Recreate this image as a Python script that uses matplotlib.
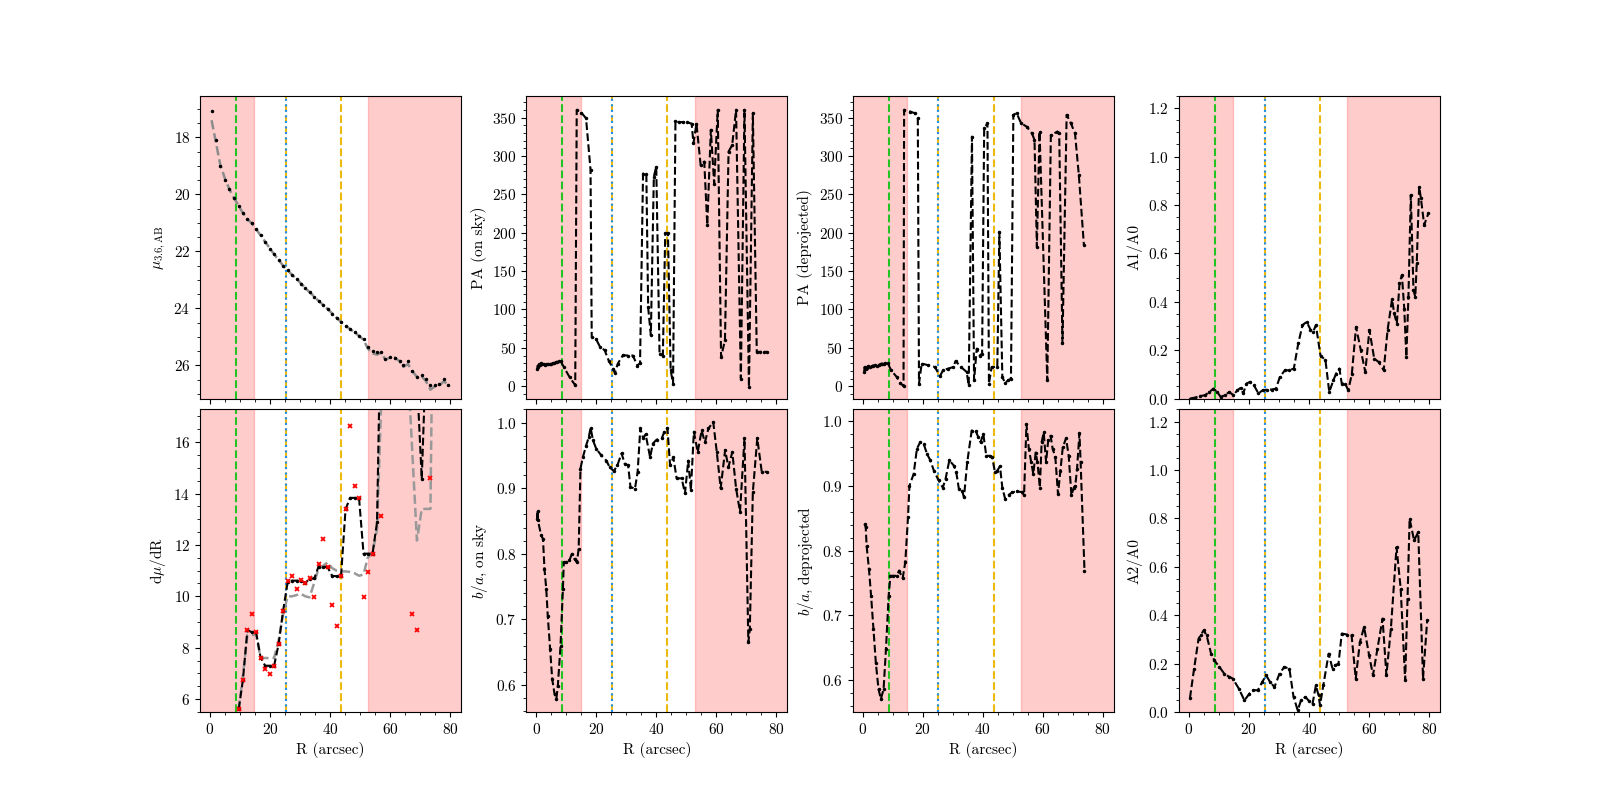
import matplotlib
matplotlib.use("Agg")
import matplotlib.pyplot as plt
from matplotlib.ticker import AutoMinorLocator

plt.rcParams.update({
    "font.family": "serif",
    "font.serif": ["cmr10", "DejaVu Serif"],
    "mathtext.fontset": "cm",
    "axes.formatter.use_mathtext": True,
    "axes.unicode_minus": False,
    "font.size": 11,
})

# ---------------- data ----------------
R_mu = [0.56, 1.95, 3.44, 5.03, 6.42, 8.0, 9.6, 11.0, 12.5, 14.0,
        15.4, 16.9, 18.4, 19.9, 21.4, 22.9, 24.4, 25.9, 27.35, 28.9,
        30.3, 31.8, 33.2, 34.8, 36.2, 37.8, 39.25, 40.7, 42.2, 43.7,
        45.2, 46.7, 48.2, 49.7, 51.2, 52.6, 54.2, 55.7, 57.1, 58.5,
        60.0, 61.6, 63.2, 64.45, 66.0, 67.5, 69.0, 70.6, 72.0, 73.5,
        75.1, 76.5, 78.0, 79.5]
mu_obs = [17.07, 18.09, 19.01, 19.50, 19.81, 20.14, 20.42, 20.67, 20.85, 21.02,
          21.23, 21.43, 21.67, 21.90, 22.10, 22.31, 22.51, 22.66, 22.81, 22.95,
          23.13, 23.27, 23.42, 23.60, 23.75, 23.89, 24.01, 24.18, 24.32, 24.48,
          24.60, 24.71, 24.83, 24.95, 25.06, 25.36, 25.50, 25.51, 25.51, 25.77,
          25.69, 25.74, 25.83, 25.97, 25.85, 26.18, 26.39, 26.35, 26.47, 26.70,
          26.67, 26.65, 26.48, 26.70]
mu_model = [17.40, 18.15, 18.95, 19.45, 19.80, 20.12, 20.40, 20.66, 20.86, 21.03,
            21.22, 21.44, 21.66, 21.88, 22.10, 22.30, 22.50, 22.66, 22.82, 22.96,
            23.12, 23.28, 23.43, 23.58, 23.74, 23.88, 24.02, 24.17, 24.33, 24.47,
            24.60, 24.72, 24.84, 24.96, 25.10, 25.40, 25.58, 25.62, 25.55, 25.80,
            25.72, 25.72, 25.85, 26.05, 25.95, 26.20, 26.40, 26.38, 26.55, 26.85,
            26.72, 26.70, 26.55, 26.70]

R_dmu = [9.6, 11.0, 12.5, 14.0, 15.4, 16.9, 18.4, 19.9, 21.4, 22.9,
         24.4, 25.9, 27.35, 28.9, 30.3, 31.8, 33.2, 34.8, 36.2, 37.8,
         39.25, 40.7, 42.2, 43.7, 45.2, 46.7, 48.2, 49.7, 51.2, 52.6,
         54.2, 55.7, 57.1, 58.5, 60.0, 61.6, 63.2, 64.45, 66.0, 67.5,
         69.0, 70.6, 72.0, 73.5, 75.1, 76.5, 78.0, 79.5]
dmu_smooth = [5.61, 6.75, 8.69, 8.60, 8.60, 7.62, 7.30, 7.30, 7.30, 8.14,
              9.44, 10.54, 10.61, 10.61, 10.61, 10.52, 10.68, 10.70, 11.16, 11.16,
              11.13, 10.80, 10.78, 10.78, 13.38, 13.83, 13.83, 13.83, 11.66, 11.66,
              11.66, 12.88, 22.0, 28.0, 30.0, 32.0, 30.0, 28.0, 26.0, 24.0,
              18.5, 14.57, 19.35, 24.0, 26.0, 22.0, 25.0, 23.0]
dmu_model = [5.6, 6.9, 8.5, 8.5, 8.5, 7.6, 7.6, 7.6, 7.6, 8.3,
             9.3, 10.0, 10.0, 10.05, 10.1, 10.0, 9.96, 10.54, 11.07, 11.2,
             11.32, 11.1, 11.0, 10.97, 10.97, 10.95, 10.9, 10.8, 10.85, 11.5,
             11.7, 12.6, 17.6, 22.0, 25.0, 24.0, 22.0, 20.0, 18.9, 15.5,
             12.17, 13.4, 13.4, 13.4, 30.0, 28.0, 26.0, 25.0]
R_dmu_raw = [9.6, 11.0, 12.5, 14.0, 15.4, 16.9, 18.4, 19.9, 21.4, 22.9,
             24.4, 25.9, 27.35, 28.9, 30.3, 31.8, 33.2, 34.8, 36.2, 37.8,
             39.25, 40.7, 42.2, 43.7, 45.2, 46.7, 48.2, 49.7, 51.2, 52.6,
             54.2, 57.1, 67.5, 69.0, 73.5]
dmu_raw = [5.61, 6.75, 8.69, 9.31, 8.60, 7.62, 7.19, 6.97, 7.30, 8.14,
           9.44, 10.61, 10.80, 10.29, 10.65, 10.52, 10.70, 9.97, 11.26, 12.24,
           11.13, 9.66, 8.86, 10.80, 13.38, 16.61, 14.31, 13.83, 9.97, 10.96,
           11.66, 13.14, 9.31, 8.69, 14.60]

R_pa_sky = [0.35, 0.5, 0.7, 0.9, 1.2, 1.6, 2.0, 2.5, 3.0, 3.5,
            4.0, 4.5, 5.0, 5.5, 6.0, 6.5, 7.0, 7.5, 8.1, 9.2,
            11.1, 13.0, 13.5, 15.0, 16.6, 18.1, 18.5, 20.0, 21.3, 22.8,
            24.2, 25.6, 26.2, 27.2, 28.9, 30.5, 32.2, 33.7, 34.6, 35.6,
            36.7, 37.3, 38.2, 39.2, 40.0, 41.1, 42.2, 43.0, 43.9, 44.8,
            45.6, 46.4, 47.6, 48.8, 50.1, 51.8, 52.4, 53.4, 54.8, 56.0,
            57.0, 58.2, 59.3, 60.5, 61.6, 62.9, 64.1, 65.3, 66.6, 68.2,
            69.4, 70.9, 72.2, 73.5, 74.6, 75.8, 76.9]
pa_sky = [22, 27, 25, 29, 28, 30, 29, 29, 28, 29,
          29, 29, 29, 30, 30, 31, 32, 33, 33, 25,
          12, 1.3, 360, 356.5, 349, 282, 64, 61, 51, 47,
          33, 23, 17.4, 29.6, 40.4, 40, 40, 27, 30, 277,
          277, 103, 66.5, 273, 286, 42.6, 40, 199, 199, 21,
          3.5, 345, 344, 344, 344, 342, 316.5, 342, 288, 292.6,
          210, 334, 264, 360, 38, 60, 305.6, 314, 360, 10,
          360, -1, 355.7, 44.8, 44.8, 44.8, 44.8]

R_ba_sky = [0.33, 0.46, 0.56, 1.65, 2.25, 2.75, 3.34, 3.84, 4.63, 5.33,
            6.12, 6.71, 7.21, 8.10, 8.90, 9.19, 9.99, 11.08, 11.87, 12.77,
            13.56, 14.15, 14.75, 15.54, 16.63, 17.53, 18.12, 18.92, 20.01, 21.69,
            23.38, 24.47, 25.86, 27.05, 28.44, 29.53, 30.62, 31.41, 32.90, 33.80,
            34.69, 35.68, 36.47, 37.96, 38.86, 40.14, 41.83, 42.72, 43.72, 44.61,
            45.70, 46.79, 48.48, 49.57, 50.66, 51.55, 52.54, 53.83, 55.12, 56.22,
            57.41, 58.99, 60.18, 61.47, 62.96, 64.05, 65.34, 66.63, 67.92, 69.41,
            70.70, 71.19, 72.19, 73.67, 75.16, 76.85]
ba_sky = [0.853, 0.866, 0.851, 0.828, 0.823, 0.777, 0.747, 0.706, 0.655, 0.609,
          0.586, 0.579, 0.599, 0.660, 0.747, 0.787, 0.787, 0.790, 0.800, 0.792,
          0.787, 0.808, 0.930, 0.947, 0.965, 0.978, 0.992, 0.973, 0.960, 0.950,
          0.942, 0.932, 0.926, 0.935, 0.953, 0.937, 0.935, 0.902, 0.899, 0.925,
          0.991, 0.976, 0.982, 0.947, 0.968, 0.974, 0.976, 0.986, 0.992, 0.935,
          0.947, 0.915, 0.915, 0.892, 0.942, 0.897, 0.986, 0.955, 0.988, 0.970,
          0.991, 1.001, 0.955, 0.900, 0.958, 0.932, 0.955, 0.899, 0.864, 0.976,
          0.665, 0.686, 0.894, 0.976, 0.925, 0.925]

R_pa_dep = [0.56, 0.66, 1.0, 1.5, 1.95, 2.5, 3.0, 3.5, 4.13, 4.8,
            5.5, 6.0, 6.42, 7.0, 7.6, 8.4, 9.49, 11.38, 12.57, 13.66,
            13.86, 15.84, 17.33, 18.42, 18.82, 19.71, 21.89, 24.17, 25.76, 26.85,
            28.54, 30.22, 31.02, 32.8, 34.69, 35.38, 36.47, 37.17, 38.06, 39.05,
            39.85, 40.54, 41.63, 42.13, 43.02, 44.91, 45.6, 46.59, 47.49, 48.58,
            49.47, 50.26, 51.35, 52.84, 54.73, 56.41, 57.31, 58.1, 58.99, 61.57,
            62.76, 64.94, 65.54, 66.63, 68.02, 69.41, 70.80, 72.09, 73.77]
pa_dep = [18.7, 25, 22, 24, 26, 25, 26, 27, 27.4, 27,
          28, 29, 29.6, 29, 30, 30.4, 20.9, 12.2, 4.4, 0,
          360, 357.8, 355.7, 349, 3.5, 29.6, 27.4, 25, 13, 20.9,
          23, 25, 33, 25, 18.7, 1.3, 325, 7.8, 49, 40,
          42.6, 336, 342.6, 3.5, 25, 25, 201, 12, 4.4, 7.8,
          10, 353.5, 355.7, 342.6, 338, 329.6, 321, 181.7, 331.7, 7.8,
          327, 331.7, 330, 55.7, 353.5, 342.6, 329.6, 275, 184]

R_ba_dep = [0.66, 1.06, 1.36, 2.15, 2.85, 3.64, 4.43, 5.33, 6.12, 7.01,
            7.81, 8.7, 9.29, 10.29, 11.48, 12.17, 13.36, 14.25, 15.15, 15.64,
            17.03, 18.12, 19.21, 20.40, 21.49, 22.59, 23.78, 25.36, 26.75, 27.65,
            28.93, 30.42, 31.22, 32.11, 33.20, 33.80, 34.89, 36.37, 37.66, 38.56,
            39.35, 40.24, 41.24, 42.33, 43.22, 44.11, 44.91, 45.80, 46.59, 47.49,
            48.78, 49.97, 51.55, 53.24, 53.83, 54.63, 55.42, 56.22, 56.91, 57.70,
            58.30, 59.09, 59.69, 60.38, 61.18, 61.87, 62.66, 63.36, 64.25, 65.14,
            65.94, 66.73, 67.82, 68.71, 69.61, 70.40, 70.90, 71.49, 72.29, 72.68,
            73.97]
ba_dep = [0.841, 0.836, 0.807, 0.771, 0.730, 0.679, 0.627, 0.586, 0.571, 0.586,
          0.648, 0.730, 0.761, 0.761, 0.761, 0.769, 0.757, 0.782, 0.851, 0.900,
          0.918, 0.957, 0.967, 0.964, 0.949, 0.939, 0.923, 0.908, 0.897, 0.910,
          0.939, 0.931, 0.921, 0.895, 0.892, 0.882, 0.936, 0.985, 0.985, 0.975,
          0.967, 0.980, 0.946, 0.946, 0.944, 0.921, 0.923, 0.930, 0.897, 0.880,
          0.886, 0.890, 0.891, 0.890, 0.885, 0.995, 0.957, 0.936, 0.918, 0.951,
          0.936, 0.897, 0.967, 0.982, 0.936, 0.970, 0.977, 0.957, 0.944, 0.887,
          0.923, 0.959, 0.973, 0.946, 0.885, 0.897, 0.900, 0.926, 0.981, 0.936,
          0.769]

R_a1 = [0.37, 2.05, 3.74, 5.42, 6.81, 8.2, 9.49, 10.58, 12.07, 13.46,
        14.85, 16.14, 17.23, 18.12, 19.21, 20.4, 21.69, 23.18, 24.57, 25.96,
        27.55, 29.03, 30.32, 32.01, 33.5, 34.99, 36.47, 37.86, 39.25, 40.54,
        41.43, 42.33, 43.91, 45.5, 46.79, 48.18, 49.07, 50.16, 50.96, 52.05,
        53.14, 54.33, 55.72, 57.31, 58.79, 60.18, 61.77, 63.26, 64.94, 66.23,
        67.72, 68.42, 69.31, 70.2, 71.0, 71.79, 72.48, 73.18, 73.97, 74.86,
        75.46, 75.95, 76.75, 77.34, 78.43, 79.82]
a1_a0 = [0.0, 0.004, 0.01, 0.014, 0.027, 0.041, 0.027, 0.007, 0.014, 0.027,
         0.014, 0.034, 0.044, 0.021, 0.062, 0.069, 0.055, 0.021, 0.034, 0.037,
         0.037, 0.041, 0.089, 0.117, 0.117, 0.124, 0.228, 0.303, 0.317, 0.285,
         0.276, 0.303, 0.175, 0.161, 0.027, 0.076, 0.103, 0.124, 0.062, 0.062,
         0.034, 0.103, 0.296, 0.2, 0.110, 0.283, 0.165, 0.151, 0.117, 0.283,
         0.410, 0.352, 0.310, 0.476, 0.510, 0.372, 0.172, 0.420, 0.841, 0.448,
         0.420, 0.558, 0.875, 0.827, 0.717, 0.765]

R_a2 = [0.37, 1.75, 3.24, 4.04, 4.93, 5.92, 7.41, 8.50, 10.19, 11.77,
        13.46, 14.65, 16.63, 18.52, 20.21, 21.49, 22.98, 24.47, 25.76, 27.05,
        28.54, 30.22, 31.81, 33.50, 34.89, 36.28, 37.37, 38.86, 40.14, 41.24,
        42.33, 43.22, 43.72, 44.81, 46.59, 47.88, 48.78, 49.87, 50.96, 52.84,
        54.23, 55.62, 57.01, 58.40, 60.08, 61.37, 62.86, 64.55, 65.84, 67.33,
        69.21, 70.60, 72.09, 72.88, 73.57, 75.06, 76.45, 78.04, 79.43]
a2_a0 = [0.058, 0.179, 0.303, 0.320, 0.337, 0.317, 0.241, 0.213, 0.186, 0.159,
         0.145, 0.138, 0.097, 0.048, 0.076, 0.090, 0.090, 0.124, 0.152, 0.124,
         0.103, 0.159, 0.186, 0.179, 0.062, 0.007, 0.048, 0.062, 0.044, 0.035,
         0.110, 0.069, 0.028, 0.110, 0.241, 0.179, 0.193, 0.200, 0.324, 0.320,
         0.317, 0.138, 0.289, 0.351, 0.234, 0.152, 0.262, 0.386, 0.152, 0.344,
         0.681, 0.509, 0.131, 0.468, 0.798, 0.709, 0.743, 0.138, 0.379]

# region markers
excluded_inner = (-10.0, 14.8)
excluded_outer = (52.8, 100.0)
r_green = 8.7
r_blue = 25.3
r_yellow = [25.3, 43.7]

ylabels = [[r"$\mu_{3.6,\mathrm{AB}}$", "PA (on sky)", "PA (deprojected)", "A1/A0"],
           [r"d$\mu$/dR", r"$b/a$, on sky", r"$b/a$, deprojected", "A2/A0"]]

# ---------------- figure ----------------
fig, axes = plt.subplots(2, 4, figsize=(16, 8), dpi=100, sharex=True)
fig.subplots_adjust(left=0.125, right=0.9, top=0.88, bottom=0.11,
                    wspace=0.25, hspace=0.036)

GREEN = "#22c322"
YELLOW = "#ecb90d"
BLUE = "#2090f0"

for row in range(2):
    for col in range(4):
        ax = axes[row, col]
        ax.axvspan(*excluded_inner, color="red", alpha=0.2, lw=1, zorder=0)
        ax.axvspan(*excluded_outer, color="red", alpha=0.2, lw=1, zorder=0)
        ax.axvline(r_green, color=GREEN, ls="--", lw=1.5, zorder=1)
        for ry in r_yellow:
            ax.axvline(ry, color=YELLOW, ls="--", lw=1.5, zorder=1)
        ax.axvline(r_blue, color=BLUE, ls=":", lw=1.5, zorder=1)
        ax.set_ylabel(ylabels[row][col])
        ax.xaxis.set_minor_locator(AutoMinorLocator())
        ax.yaxis.set_minor_locator(AutoMinorLocator())

line_kw = dict(color="black", ls="--", lw=1.5, marker=".", ms=3, zorder=3)

# surface brightness
ax = axes[0, 0]
ax.plot(R_mu, mu_model, color="0.55", ls="--", lw=1.8, zorder=2)
ax.plot(R_mu, mu_obs, ls="none", marker=".", ms=3, color="black", zorder=3)
ax.set_ylim(27.16, 16.55)

# derivative
ax = axes[1, 0]
ax.plot(R_dmu, dmu_model, color="0.6", ls="--", lw=1.8, zorder=2)
ax.plot(R_dmu, dmu_smooth, **line_kw)
ax.plot(R_dmu_raw, dmu_raw, ls="none", marker="x", ms=3.5, mew=1.3,
        color="red", zorder=4)
ax.set_ylim(5.5, 17.27)

axes[0, 1].plot(R_pa_sky, pa_sky, **line_kw)
axes[0, 1].set_ylim(-16, 378)
axes[1, 1].plot(R_ba_sky, ba_sky, **line_kw)
axes[1, 1].set_ylim(0.559, 1.020)

axes[0, 2].plot(R_pa_dep, pa_dep, **line_kw)
axes[0, 2].set_ylim(-16, 378)
axes[1, 2].plot(R_ba_dep, ba_dep, **line_kw)
axes[1, 2].set_ylim(0.551, 1.0175)

axes[0, 3].plot(R_a1, a1_a0, **line_kw)
axes[0, 3].set_ylim(0, 1.25)
axes[1, 3].plot(R_a2, a2_a0, **line_kw)
axes[1, 3].set_ylim(0, 1.25)

axes[0, 0].set_xlim(-3.3, 83.7)
axes[0, 0].set_xticks([0, 20, 40, 60, 80])
for col in range(4):
    axes[1, col].set_xlabel("R (arcsec)")

fig.savefig("out.png", dpi=100)
